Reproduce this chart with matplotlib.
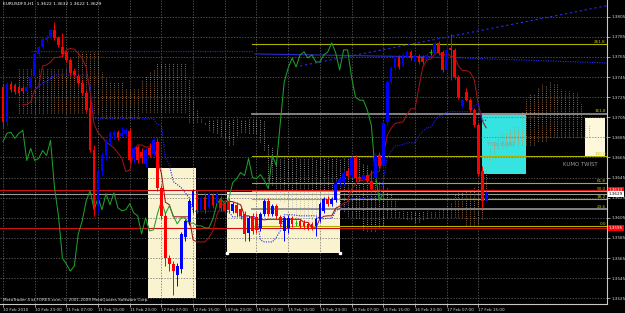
import matplotlib
matplotlib.use("Agg")
import matplotlib.pyplot as plt
import matplotlib.transforms as mtransforms
from matplotlib.patches import Rectangle
import numpy as np
import pandas as pd

# ---------------- data ----------------
bar_open = [1.3735,1.3700,1.3738,1.3737,1.3735,1.3734,1.3731,1.3734,1.3746,1.3768,
            1.3775,1.3782,1.3785,1.3792,1.3784,1.3775,1.3770,1.3762,1.3751,1.3746,
            1.3739,1.3729,1.3714,1.3672,1.3617,1.3652,1.3667,1.3680,1.3687,1.3690,
            1.3686,1.3688,1.3691,1.3664,1.3675,1.3670,1.3659,1.3674,1.3668,1.3680,
            1.3635,1.3607,1.3565,1.3559,1.3548,1.3554,1.3586,1.3601,1.3616,1.3630,
            1.3613,1.3626,1.3616,1.3628,1.3620,1.3624,1.3619,1.3622,1.3612,1.3618,
            1.3614,1.3609,1.3590,1.3607,1.3606,1.3595,1.3609,1.3622,1.3609,1.3617,
            1.3606,1.3592,1.3595,1.3605,1.3600,1.3602,1.3600,1.3599,1.3599,1.3597,
            1.3604,1.3612,1.3624,1.3619,1.3623,1.3640,1.3641,1.3652,1.3648,1.3664,
            1.3646,1.3644,1.3648,1.3642,1.3646,1.3667,1.3657,1.3700,1.3740,1.3754,
            1.3764,1.3757,1.3765,1.3770,1.3760,1.3766,1.3765,1.3762,1.3770,1.3769,
            1.3779,1.3770,1.3752,1.3774,1.3772,1.3745,1.3716,1.3730,1.3722,1.3712,
            1.3697,1.3652,1.3622]
bar_high = [1.3738,1.3740,1.3741,1.3739,1.3737,1.3736,1.3736,1.3747,1.3770,1.3776,
            1.3785,1.3787,1.3793,1.3800,1.3786,1.3789,1.3772,1.3764,1.3754,1.3748,
            1.3742,1.3732,1.3722,1.3677,1.3654,1.3670,1.3683,1.3691,1.3692,1.3692,
            1.3695,1.3694,1.3694,1.3676,1.3677,1.3674,1.3674,1.3679,1.3684,1.3684,
            1.3638,1.3610,1.3568,1.3562,1.3560,1.3591,1.3604,1.3624,1.3634,1.3633,
            1.3627,1.3630,1.3632,1.3630,1.3632,1.3627,1.3622,1.3625,1.3621,1.3621,
            1.3617,1.3612,1.3607,1.3610,1.3610,1.3611,1.3624,1.3625,1.3619,1.3619,
            1.3608,1.3607,1.3608,1.3607,1.3603,1.3604,1.3603,1.3601,1.3601,1.3606,
            1.3621,1.3626,1.3627,1.3626,1.3642,1.3646,1.3652,1.3655,1.3666,1.3667,
            1.3648,1.3650,1.3652,1.3653,1.3669,1.3670,1.3701,1.3742,1.3756,1.3766,
            1.3767,1.3769,1.3772,1.3772,1.3769,1.3768,1.3767,1.3769,1.3773,1.3781,
            1.3781,1.3772,1.3789,1.3788,1.3774,1.3747,1.3723,1.3734,1.3724,1.3714,
            1.3699,1.3657,1.3632]
bar_low = [1.3694,1.3696,1.3730,1.3728,1.3727,1.3729,1.3729,1.3732,1.3744,1.3766,
           1.3773,1.3780,1.3783,1.3782,1.3775,1.3765,1.3760,1.3747,1.3745,1.3737,
           1.3727,1.3710,1.3670,1.3607,1.3610,1.3647,1.3662,1.3677,1.3683,1.3682,
           1.3685,1.3686,1.3660,1.3660,1.3660,1.3660,1.3656,1.3665,1.3666,1.3632,
           1.3604,1.3557,1.3552,1.3528,1.3537,1.3550,1.3582,1.3598,1.3610,1.3610,
           1.3610,1.3610,1.3614,1.3615,1.3618,1.3612,1.3610,1.3610,1.3610,1.3607,
           1.3604,1.3582,1.3582,1.3589,1.3590,1.3592,1.3607,1.3607,1.3607,1.3604,
           1.3596,1.3582,1.3590,1.3596,1.3597,1.3595,1.3594,1.3593,1.3593,1.3587,
           1.3601,1.3610,1.3617,1.3617,1.3621,1.3637,1.3638,1.3645,1.3646,1.3642,
           1.3642,1.3640,1.3640,1.3632,1.3644,1.3655,1.3655,1.3697,1.3738,1.3752,
           1.3753,1.3755,1.3763,1.3762,1.3758,1.3758,1.3758,1.3760,1.3767,1.3767,
           1.3767,1.3750,1.3750,1.3742,1.3743,1.3723,1.3714,1.3721,1.3710,1.3695,
           1.3647,1.3615,1.3622]
bar_close = [1.3700,1.3738,1.3732,1.3730,1.3729,1.3731,1.3735,1.3745,1.3768,1.3775,
             1.3783,1.3785,1.3792,1.3784,1.3777,1.3768,1.3762,1.3749,1.3747,1.3739,
             1.3729,1.3712,1.3672,1.3617,1.3652,1.3667,1.3681,1.3689,1.3690,1.3684,
             1.3689,1.3692,1.3662,1.3674,1.3662,1.3664,1.3672,1.3667,1.3682,1.3635,
             1.3607,1.3565,1.3559,1.3552,1.3557,1.3589,1.3602,1.3622,1.3632,1.3613,
             1.3625,1.3613,1.3629,1.3618,1.3630,1.3615,1.3612,1.3613,1.3619,1.3610,
             1.3607,1.3589,1.3605,1.3592,1.3593,1.3609,1.3622,1.3609,1.3617,1.3607,
             1.3599,1.3605,1.3605,1.3599,1.3600,1.3597,1.3597,1.3595,1.3595,1.3604,
             1.3619,1.3624,1.3619,1.3624,1.3640,1.3644,1.3650,1.3647,1.3664,1.3645,
             1.3644,1.3648,1.3642,1.3634,1.3667,1.3657,1.3699,1.3740,1.3754,1.3764,
             1.3755,1.3767,1.3770,1.3764,1.3767,1.3760,1.3760,1.3767,1.3770,1.3779,
             1.3769,1.3752,1.3772,1.3772,1.3745,1.3725,1.3722,1.3722,1.3712,1.3697,
             1.3649,1.3622,1.3629]

symbol_title = "EURUSDFX,H1"
time_labels = ["10 Feb 2010", "10 Feb 23:00", "11 Feb 07:00", "11 Feb 15:00",
               "11 Feb 23:00", "12 Feb 07:00", "12 Feb 15:00", "14 Feb 23:00",
               "15 Feb 07:00", "15 Feb 15:00", "15 Feb 23:00", "16 Feb 07:00",
               "16 Feb 15:00", "16 Feb 23:00", "17 Feb 07:00", "17 Feb 15:00"]
time_label_bars = [0, 8, 16, 24, 32, 40, 48, 56, 64, 72, 80, 88, 96, 104, 112, 120]
price_ticks = [1.3525, 1.3545, 1.3565, 1.3585, 1.3605, 1.3625, 1.3645, 1.3665,
               1.3685, 1.3705, 1.3725, 1.3745, 1.3765, 1.3785, 1.3805]

# Fibonacci object
fib_low = 1.3597
fib_high = 1.3666
fib_levels = [0.0, 23.6, 38.2, 50.0, 61.8, 100.0, 161.8, 261.8]
fib_start_bar = 62.9

# horizontal lines
red_levels = [1.3633, 1.3595]
bid_price = 1.3629

# cloud before computable history, bars 4..51
kumo_left_first_bar = 4
kumo_left_a = ([1.3753] * 15 + [1.3770] * 6 + [1.3750, 1.3744] + [1.3740] * 4 +
               [1.3734] * 4 + [1.3742, 1.3746, 1.3750, 1.3752] + [1.3759] * 8 +
               [1.3742, 1.3722, 1.3712, 1.3704, 1.3698])
kumo_left_b = [1.3709] * 21 + [1.3704] * 10 + [1.3710] * 12 + [1.3700] * 5

# blue objects (bar, price)
blue_level_bars = [7, 63]
blue_level_price = [1.3771, 1.3771]
blue_channel_bars = [63.6, 108, 152.5]
blue_channel_price = [1.3768, 1.3765, 1.3759]
blue_trend_bars = [75, 152.5]
blue_trend_price = [1.3756, 1.3816]

# rectangles: (bar0, bar1, price_low, price_high)
box_left = (36.6, 48.7, 1.3525, 1.3655)
box_mid = (56.6, 85.1, 1.3570, 1.3631)
box_cyan = (121.0, 132.1, 1.3649, 1.3709)
box_right = (147.0, 152.0, 1.3665, 1.3704)
thin_kumo_pos = (122.2, 1.3678)
kumo_twist_pos = (141.5, 1.3658)

# ---------------- indicators ----------------
df = pd.DataFrame({"o": bar_open, "h": bar_high, "l": bar_low, "c": bar_close})
n = len(df)
idx = np.arange(n)
tenkan = (df.h.rolling(9, min_periods=1).max() + df.l.rolling(9, min_periods=1).min()) / 2
kijun = (df.h.rolling(26, min_periods=1).max() + df.l.rolling(26, min_periods=1).min()) / 2
span_a = (tenkan + kijun) / 2
span_b = (df.h.rolling(52, min_periods=1).max() + df.l.rolling(52, min_periods=1).min()) / 2

# ---------------- figure ----------------
W, H = 625, 313
fig = plt.figure(figsize=(W / 100, H / 100), dpi=100, facecolor="black")
ax = fig.add_axes([0, 9 / H, 607 / W, 304 / H], facecolor="black")
x_left, x_right = -0.76, 152.5
y_bot, y_top = 1.35193, 1.38216
ax.set_xlim(x_left, x_right)
ax.set_ylim(y_bot, y_top)

grid_kw = dict(color="#6a6a6a", lw=0.5, linestyle=(0, (2, 2)), zorder=1)
for p in price_ticks:
    ax.axhline(p, **grid_kw)
for b in time_label_bars:
    ax.axvline(b, **grid_kw)

# rectangles
def rect(b, color, z=0.5):
    ax.add_patch(Rectangle((b[0], b[2]), b[1] - b[0], b[3] - b[2],
                           facecolor=color, edgecolor="none", zorder=z))

rect(box_left, "#faf3cf")
rect(box_mid, "#faf3cf")
rect(box_cyan, "#35e3e0")
rect(box_right, "#fdf8dc")
ax.plot([box_mid[0], box_mid[1]], [box_mid[2], box_mid[2]], ls="none",
        marker="s", ms=2, color="white", zorder=9)

# cloud hatching
hatch_ls = (0, (1, 1.6))
tan_col, gray_col = "#c38a52", "#b4b4b4"
left_bars = np.arange(kumo_left_first_bar, kumo_left_first_bar + len(kumo_left_a))
la, lb = np.array(kumo_left_a), np.array(kumo_left_b)
ax.vlines(left_bars[la >= lb], np.minimum(la, lb)[la >= lb], np.maximum(la, lb)[la >= lb],
          colors=tan_col, lw=0.6, linestyles=hatch_ls, zorder=2)
ax.vlines(left_bars[la < lb], np.minimum(la, lb)[la < lb], np.maximum(la, lb)[la < lb],
          colors=gray_col, lw=0.6, linestyles=hatch_ls, zorder=2)
src = np.arange(26, n)
xs = src + 26
a_v, b_v = span_a.values[src], span_b.values[src]
up = a_v >= b_v
ax.vlines(xs[up], np.minimum(a_v, b_v)[up], np.maximum(a_v, b_v)[up],
          colors=tan_col, lw=0.6, linestyles=hatch_ls, zorder=2)
ax.vlines(xs[~up], np.minimum(a_v, b_v)[~up], np.maximum(a_v, b_v)[~up],
          colors=gray_col, lw=0.6, linestyles=hatch_ls, zorder=2)

# horizontal objects
for p in red_levels:
    ax.axhline(p, color="#d01010", lw=0.8, zorder=3)
ax.axhline(bid_price, color="#9a9a9a", lw=0.8, zorder=3)
rng = fib_high - fib_low
for r in fib_levels:
    p = fib_low + rng * r / 100
    col = "#8c8c8c" if r in (23.6, 161.8) else "#b0b000"
    lw = 1.3 if r in (23.6, 161.8) else 0.8
    ax.plot([fib_start_bar, x_right], [p, p], color=col, lw=lw, zorder=3)
    ax.text(x_right - 0.3, p + 0.00003, f"{r:.1f}", color="#c8c800", fontsize=3.0,
            ha="right", va="bottom", zorder=8)

# blue objects
ax.plot(blue_level_bars, blue_level_price, color="#2a2aff", lw=0.8, ls=(0, (1, 1.2)), zorder=3)
ax.plot(blue_channel_bars[:2], blue_channel_price[:2], color="#2a2ad0", lw=0.8, zorder=3)
ax.plot(blue_channel_bars[1:], blue_channel_price[1:], color="#2a2aff", lw=0.8,
        ls=(0, (1, 1.2)), zorder=3)
ax.plot(blue_trend_bars, blue_trend_price, color="#2a2aff", lw=0.8, ls=(0, (2, 2.5)), zorder=3)

# ichimoku lines
ax.plot(idx[5:], tenkan.values[5:], color="#9a1616", lw=0.75, zorder=4)
ax.plot(idx[8:], kijun.values[8:], color="#2020ff", lw=0.8, ls=(0, (1, 1.2)), zorder=4)
ax.plot(idx[26:] - 26, df.c.values[26:], color="#1e9e2a", lw=0.75, zorder=4)

# candles
o, c, h, l = df.o.values, df.c.values, df.h.values, df.l.values
cols = np.where(c > o, "#0000ff", np.where(c < o, "#ff0000", "#00c000"))
ax.vlines(idx, l, h, colors=cols, lw=0.7, zorder=5)
body_lo = np.minimum(o, c)
body_h = np.abs(c - o)
ax.bar(idx, body_h, bottom=body_lo, width=0.68, color=cols, linewidth=0, zorder=6)
doji = c == o
ax.hlines(c[doji], idx[doji] - 0.35, idx[doji] + 0.35, colors="#00c000", lw=0.8, zorder=6)

# texts
ax.text(thin_kumo_pos[0], thin_kumo_pos[1], "THIN KUMO", color="#7fa2a2",
        fontsize=3.4, ha="left", va="center", zorder=8)
ax.text(kumo_twist_pos[0], kumo_twist_pos[1], "KUMO TWIST", color="#9a9a9a",
        fontsize=3.9, ha="left", va="center", zorder=8)
title = (f"{symbol_title}  {bar_open[-1]:.4f} {bar_high[-1]:.4f} "
         f"{bar_low[-1]:.4f} {bar_close[-1]:.4f}")
ax.text(0.005, 0.992, title, transform=ax.transAxes, color="white", fontsize=3.2,
        ha="left", va="top", zorder=9)
ax.text(0.005, 0.008, "MetaTrader 4 at FOREX.com, \u00a9 2001-2009 MetaQuotes Software Corp.",
        transform=ax.transAxes, color="#e0e0e0", fontsize=3.0, ha="left", va="bottom", zorder=9)

# axes styling
for s in ("left", "top"):
    ax.spines[s].set_visible(False)
for s in ("right", "bottom"):
    ax.spines[s].set_color("#c8c8c8")
    ax.spines[s].set_linewidth(0.8)
ax.yaxis.tick_right()
ax.set_yticks(price_ticks)
ax.set_yticklabels([f"{p:.4f}" for p in price_ticks])
ax.tick_params(axis="y", colors="#d8d8d8", labelsize=3.0, length=2, width=0.5, pad=1)
ax.set_xticks(time_label_bars)
ax.set_xticklabels(time_labels, ha="left")
ax.tick_params(axis="x", colors="#d8d8d8", labelsize=3.0, length=2, width=0.5, pad=1)
for t in ax.get_xticklabels():
    t.set_family(["Liberation Sans Narrow", "DejaVu Sans"])

# price labels on the axis
trans = mtransforms.blended_transform_factory(ax.transAxes, ax.transData)
for p in red_levels:
    ax.text(1.003, p, f"{p:.4f}", transform=trans, color="white", fontsize=3.0,
            ha="left", va="center", zorder=10, clip_on=False,
            bbox=dict(facecolor="#ff0000", edgecolor="none", pad=0.6))
ax.text(1.003, bid_price, f"{bid_price:.4f}", transform=trans, color="black", fontsize=3.0,
        ha="left", va="center", zorder=10, clip_on=False,
        bbox=dict(facecolor="white", edgecolor="none", pad=0.6))

fig.savefig("out.png", dpi=100, facecolor="black")
